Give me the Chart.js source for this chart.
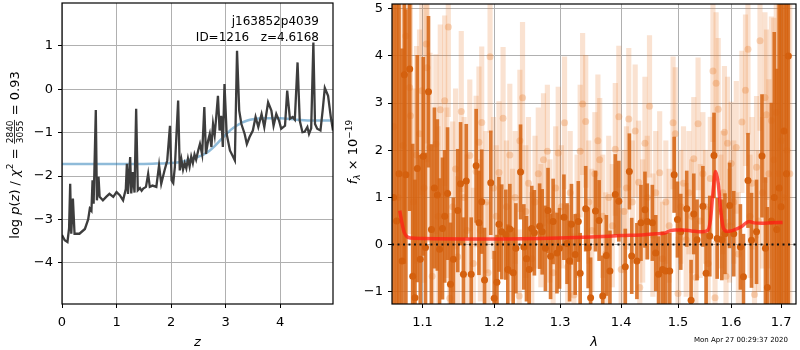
<!DOCTYPE html>
<html><head><meta charset="utf-8">
<script src="https://cdn.jsdelivr.net/npm/chart.js@4.4.0/dist/chart.umd.min.js"></script>
<style>
html,body{margin:0;padding:0;background:#fff;}
#wrap{position:relative;width:800px;height:350px;overflow:hidden;background:#fff;}
#c1{position:absolute;left:0;top:0;}
#c2{position:absolute;left:336px;top:0;}
</style></head><body>
<div id="wrap">
<canvas id="c1" width="340" height="350"></canvas>
<canvas id="c2" width="464" height="350"></canvas>
</div>
<script>
// ---------------- DATA: left panel (redshift PDF) ----------------
const zGrid = [0.00,0.05,0.10,0.13,0.15,0.17,0.20,0.23,0.32,0.42,0.48,0.51,0.54,0.56,0.58,0.62,0.64,0.67,0.69,0.75,
 0.81,0.87,0.94,1.00,1.06,1.12,1.17,1.19,1.21,1.25,1.27,1.30,1.33,1.36,1.39,1.43,1.46,1.49,1.54,1.58,
 1.61,1.66,1.73,1.78,1.82,1.88,1.93,1.98,2.01,2.04,2.07,2.13,2.16,2.19,2.22,2.25,2.28,2.31,2.34,2.37,
 2.40,2.43,2.46,2.50,2.53,2.57,
 2.61,2.64,2.68,2.71,2.74,2.77,2.80,2.83,2.86,2.89,2.92,2.95,2.98,3.02,3.08,3.14,3.17,3.21,3.25,3.29,
 3.35,3.39,3.44,3.50,3.55,3.60,3.66,3.71,3.78,3.84,3.88,3.93,3.98,4.02,4.09,4.13,4.18,4.23,4.27,4.32,
 4.36,4.41,4.45,4.50,4.53,4.57,4.61,4.64,4.68,4.74,4.78,4.82,4.88,4.93,4.97];
const logPz = [-3.36,-3.48,-3.52,-3.20,-2.18,-3.33,-2.52,-3.33,-3.33,-3.22,-3.00,-2.75,-2.80,-2.10,-2.64,-0.48,-2.56,-2.02,-2.48,-2.56,
 -2.48,-2.41,-2.48,-2.37,-2.44,-2.56,-2.30,-1.72,-2.41,-1.56,-2.40,-1.91,-2.38,-0.45,-2.33,-2.28,-2.34,-2.29,-2.25,-1.95,
 -2.25,-2.22,-2.25,-1.75,-2.18,-1.87,-1.64,-0.84,-2.10,-2.16,-1.79,-0.26,-1.87,-1.62,-1.85,-1.70,-1.82,-1.60,-1.78,-1.55,
 -1.70,-1.50,-1.62,-1.40,-1.26,-1.50,
 -0.41,-1.49,-1.18,-1.03,-1.33,-0.80,-1.05,-0.61,-0.15,-0.95,-0.61,-1.33,0.12,-1.03,-1.41,-1.56,-1.64,0.89,-0.49,-0.80,
 -1.03,-1.26,-1.10,-0.95,-0.64,-0.87,-0.57,-0.87,-0.30,-0.49,-0.84,-0.57,-0.72,-0.91,-0.84,-0.03,-0.68,-0.64,-0.70,0.62,
 -0.72,-0.99,-0.98,-0.87,-1.03,-0.90,1.08,-0.80,-0.91,-0.95,-0.49,0.03,-0.15,-0.64,-0.95];
const zPrior = [0.0,0.5,1.0,1.5,1.8,2.0,2.2,2.4,2.6,2.7,2.8,2.9,3.0,3.1,3.2,3.3,3.4,3.5,3.7,4.0,4.3,4.6,4.97];
const logPrior = [-1.72,-1.72,-1.72,-1.72,-1.71,-1.70,-1.67,-1.60,-1.50,-1.42,-1.31,-1.18,-1.05,-0.93,-0.84,-0.77,-0.72,-0.69,-0.67,-0.67,-0.70,-0.72,-0.72];
const zTicks = [0,1,2,3,4];
const logpTicks = [-4,-3,-2,-1,0,1];

// ---------------- DATA: right panel (spectrum) ----------------
const lamDark = [1.062,1.066,1.069,1.073,1.076,1.078,1.083,1.087,1.090,1.093,1.097,1.101,1.104,1.108,1.112,1.116,1.120,1.123,1.127,1.130,
 1.134,1.138,1.142,1.148,1.152,1.156,1.160,1.167,1.174,1.178,1.182,1.186,1.195,1.200,1.204,1.207,1.211,1.217,1.220,1.223,
 1.228,1.232,1.239,1.244,1.248,1.252,1.256,1.260,1.268,1.272,1.277,1.281,1.285,1.289,1.295,1.299,1.306,1.311,1.315,1.318,
 1.324,1.329,1.332,1.341,1.345,1.349,1.357,1.363,1.369,1.375,1.381,1.390,1.396,1.407,1.414,1.418,1.427,1.434,1.441,1.445,
 1.454,1.460,1.465,1.472,1.478,1.485,1.493,1.499,1.505,1.516,1.524,1.529,1.535,1.546,1.552,1.559,1.567,1.573,1.582,1.588,
 1.597,1.605,1.618,1.624,1.633,1.640,1.650,1.661,1.668,1.672,1.680,1.686,1.691,1.696,1.700,1.706,1.711,1.715];
const fluxDark = [1.0,0.5,1.5,-0.35,3.60,1.48,3.72,-0.67,-1.13,1.61,-0.31,1.87,-0.06,3.24,0.32,1.20,1.05,-0.10,0.34,0.60,
 1.08,-0.84,-0.31,0.72,1.29,-0.63,1.35,-0.63,1.67,0.46,0.91,-0.75,1.31,-1.14,-0.80,0.43,0.27,0.21,-0.53,0.33,
 -0.60,-0.08,1.54,-0.05,-0.30,-0.53,0.34,0.25,0.39,0.27,-0.08,0.72,-0.25,0.49,-0.18,-0.08,0.58,0.02,-0.35,0.43,
 -0.21,0.49,-0.61,0.76,-0.07,-1.13,0.71,0.51,-1.09,-0.23,-0.56,1.06,0.92,-0.47,1.55,-0.24,-0.35,0.46,0.74,0.49,
 0.46,-0.18,-0.63,-0.53,-0.56,-0.56,1.48,0.53,0.27,0.76,-1.18,0.65,0.10,0.81,-0.61,0.18,1.89,0.13,0.10,0.23,
 0.83,0.23,-0.05,-0.68,1.36,0.09,0.27,1.88,-0.08,-0.91,0.50,1.00,0.32,1.20,0.80,2.41,1.50,4.00];
const errDark = [6,6,5,4.5,4,3.5,3,2.8,2.5,2.4,2.2,2.1,2.0,1.6,1.8,1.7,1.6,1.5,1.5,1.4,
 1.4,1.3,1.3,1.3,1.3,1.2,1.2,1.2,1.2,1.1,1.1,1.1,1.1,1.0,1.0,1.0,1.0,0.95,0.95,0.95,
 0.95,0.95,1.0,0.9,0.9,0.9,0.9,0.9,0.9,0.9,0.9,0.9,0.9,0.9,0.85,0.85,0.9,0.85,0.85,0.85,
 0.85,0.85,0.85,0.9,0.85,0.85,0.85,0.85,0.85,0.85,0.85,0.85,0.85,0.8,0.8,0.8,0.8,0.8,0.8,0.8,
 0.8,0.8,0.8,0.8,0.8,0.8,0.8,0.8,0.8,0.8,0.85,0.85,0.85,0.85,0.85,0.85,0.9,0.85,0.85,0.85,
 0.9,0.9,0.9,0.9,1.0,1.0,1.1,1.3,1.5,1.7,2.5,3.5,3.4,5,6,6,6,6];

const lamLight = [1.062,1.068,1.074,1.078,1.083,1.084,1.088,1.092,1.096,1.099,1.102,1.105,1.106,1.110,1.113,1.118,1.121,1.124,1.130,1.133,
 1.135,1.137,1.141,1.145,1.148,1.153,1.157,1.161,1.165,1.170,1.174,1.178,1.180,1.182,1.188,1.191,1.194,1.199,1.203,1.207,
 1.213,1.218,1.223,1.227,1.231,1.237,1.238,1.242,1.247,1.251,1.256,1.261,1.266,1.270,1.274,1.280,1.284,1.289,1.293,1.297,
 1.302,1.307,1.312,1.316,1.322,1.327,1.332,1.336,1.341,1.346,1.351,1.356,1.361,1.364,1.369,1.374,1.379,1.385,1.390,1.396,
 1.400,1.405,1.409,1.413,1.419,1.424,1.430,1.432,1.437,1.441,1.445,1.449,1.455,1.460,1.467,1.472,1.478,1.484,1.491,1.495,
 1.500,1.505,1.510,1.515,1.520,1.525,1.529,1.533,1.537,1.541,1.546,1.551,1.556,1.560,1.565,1.569,1.571,1.575,1.580,1.584,
 1.587,1.590,1.593,1.597,1.600,1.605,1.610,1.614,1.621,1.628,1.633,1.637,1.641,1.646,1.650,1.654,1.657,1.662,1.667,1.670,
 1.675,1.680,1.685,1.690,1.695,1.700,1.706,1.712,1.718];
const fluxLight = [2.5,1.0,2.1,4.42,3.33,2.73,0.9,1.9,2.35,3.26,1.2,4.25,3.75,2.06,-0.67,2.13,0.6,2.86,3.05,1.1,
 4.61,-1.14,0.8,1.6,-0.26,2.82,1.0,0.3,1.89,-0.4,1.55,2.17,0.30,2.59,0.9,-0.6,3.98,1.2,0.6,1.53,
 2.68,0.8,1.90,0.2,1.0,-1.09,2.20,3.11,0.7,1.3,-0.3,0.9,1.50,0.4,1.80,1.98,0.5,-0.6,1.2,1.94,
 0.8,2.58,-0.47,1.1,-1.07,0.6,1.98,2.98,2.61,0.9,0.3,1.5,2.20,1.80,0.6,-0.2,1.0,0.4,2.02,2.71,
 -0.53,0.7,1.2,2.66,0.9,2.41,1.32,-0.91,0.5,2.15,1.0,2.93,0.2,1.1,1.52,-0.3,0.9,0.4,2.58,2.35,
 -1.04,0.8,1.3,0.1,1.1,0.6,1.82,-0.7,2.56,0.5,1.50,0.8,-0.4,1.4,3.68,-1.13,3.42,2.87,0.7,1.1,
 2.38,-0.67,2.15,0.4,1.72,0.9,2.06,-0.2,2.60,3.27,4.14,0.6,1.3,-1.06,1.64,0.5,4.32,1.1,3.12,2.75,
 1.5,2.63,1.8,2.8,1.5,2.2,1.0,2.0,1.5];
const errLight = [5,5,4,3,2.6,2.5,2.4,2.3,2.2,2.2,2.0,2.1,2.0,2.0,1.9,1.9,1.9,1.8,1.8,1.8,
 1.9,1.8,1.8,1.7,1.7,1.7,1.7,1.6,1.6,1.6,1.6,1.6,1.5,1.6,1.5,1.5,1.6,1.5,1.5,1.5,
 1.5,1.4,1.5,1.4,1.4,1.4,1.5,1.6,1.4,1.4,1.4,1.4,1.4,1.3,1.4,1.4,1.3,1.3,1.3,1.4,
 1.3,1.4,1.3,1.3,1.3,1.3,1.4,1.5,1.4,1.3,1.3,1.3,1.4,1.3,1.3,1.3,1.3,1.3,1.4,1.5,
 1.3,1.3,1.3,1.5,1.3,1.4,1.3,1.3,1.3,1.4,1.3,1.5,1.3,1.3,1.3,1.2,1.3,1.2,1.4,1.4,
 1.2,1.2,1.2,1.2,1.3,1.2,1.3,1.2,1.4,1.2,1.3,1.2,1.2,1.3,1.5,1.2,1.5,1.5,1.2,1.3,
 1.4,1.2,1.4,1.2,1.3,1.3,1.4,1.3,1.5,1.6,1.8,1.3,1.4,1.4,1.5,1.5,1.9,1.6,1.8,1.8,
 2.0,2.2,3,4,5,6,6,6,6];

const lamModel = [1.070,1.073,1.076,1.080,1.085,1.100,1.200,1.300,1.350,1.400,1.440,1.460,1.475,1.485,1.495,1.510,1.525,1.545,1.555,1.560,
 1.565,1.570,1.575,1.580,1.585,1.592,1.600,1.610,1.620,1.628,1.635,1.645,1.660,1.680,1.703];
const fluxModel = [0.72,0.45,0.25,0.16,0.14,0.13,0.12,0.14,0.16,0.19,0.21,0.23,0.24,0.29,0.31,0.31,0.29,0.27,0.30,0.50,
 1.10,1.55,1.30,0.70,0.35,0.28,0.29,0.33,0.38,0.45,0.49,0.46,0.45,0.46,0.47];
const lamTicks = [1.1,1.2,1.3,1.4,1.5,1.6,1.7];
const fluxTicks = [-1,0,1,2,3,4,5];

// ---------------- helpers ----------------
Chart.defaults.font.family = '"DejaVu Sans", sans-serif';
Chart.defaults.font.size = 13;
Chart.defaults.color = '#000';
const F = '13px "DejaVu Sans"', FI = 'italic 13px "DejaVu Sans"', FS = '9px "DejaVu Sans"', FSI = 'italic 9px "DejaVu Sans"';
const minus = v => String(v).replace('-', '\u2212');
const GRID = {color:'#b0b0b0', lineWidth:1, tickColor:'#000', tickLength:4, drawTicks:true};
const fitY = w => s => { s.width = w; s.paddingTop = 0; s.paddingBottom = 0; };
const fitX = h => s => { s.height = h; s.paddingLeft = 0; s.paddingRight = 0; };

function drawPieces(ctx, pieces, cx){
  let total = 0;
  pieces.forEach(p => {
    ctx.font = p.f;
    if (p.frac) { p.w = Math.max(ctx.measureText(p.frac[0]).width, ctx.measureText(p.frac[1]).width) + 2; }
    else p.w = ctx.measureText(p.t).width;
    total += p.w;
  });
  let x = cx - total/2;
  ctx.textAlign = 'left'; ctx.textBaseline = 'alphabetic';
  pieces.forEach(p => {
    ctx.font = p.f;
    if (p.frac) {
      ctx.textAlign = 'center';
      ctx.fillText(p.frac[0], x + p.w/2, -6);
      ctx.fillText(p.frac[1], x + p.w/2, 3.5);
      ctx.fillRect(x + 0.5, -4.9, p.w - 1, 0.8);
      ctx.textAlign = 'left';
    } else ctx.fillText(p.t, x, p.dy || 0);
    x += p.w;
  });
}

const frame = {
  id:'frame',
  afterDraw(chart){
    const {ctx, chartArea:a} = chart;
    ctx.save(); ctx.strokeStyle = '#000'; ctx.lineWidth = 1.2;
    ctx.strokeRect(a.left, a.top, a.right - a.left, a.bottom - a.top);
    ctx.restore();
  }
};

const leftText = {
  id:'leftText',
  afterDraw(chart){
    const {ctx, chartArea:a} = chart;
    ctx.save(); ctx.fillStyle = '#000';
    ctx.font = '12px "DejaVu Sans"'; ctx.textAlign = 'right'; ctx.textBaseline = 'alphabetic';
    ctx.fillText('j163852p4039', 319, 25);
    ctx.fillText('ID=1216   z=4.6168', 319, 41);
    ctx.font = FI; ctx.textAlign = 'center';
    ctx.fillText('z', (a.left + a.right)/2, 346);
    ctx.translate(19, 155); ctx.rotate(-Math.PI/2);
    drawPieces(ctx, [
      {t:'log ', f:F}, {t:'p', f:FI}, {t:'(', f:F}, {t:'z', f:FI}, {t:') / ', f:F},
      {t:'\u03c7', f:FI}, {t:'2', f:FS, dy:-6}, {t:' = ', f:F},
      {frac:['2840','3055'], f:FS}, {t:' = 0.93', f:F}
    ], 0);
    ctx.restore();
  }
};

const rightText = {
  id:'rightText',
  afterDraw(chart){
    const {ctx, chartArea:a} = chart;
    ctx.save(); ctx.fillStyle = '#000';
    ctx.font = FI; ctx.textAlign = 'center'; ctx.textBaseline = 'alphabetic';
    ctx.fillText('\u03bb', (a.left + a.right)/2, 346);
    ctx.font = '7px "DejaVu Sans"';
    ctx.fillText('Mon Apr 27 00:29:37 2020', 405, 342);
    ctx.translate(21, 152); ctx.rotate(-Math.PI/2);
    drawPieces(ctx, [
      {t:'f', f:FI}, {t:'\u03bb', f:FSI, dy:3}, {t:' \u00d7 10', f:F}, {t:'\u221219', f:FS, dy:-5}
    ], 0);
    ctx.restore();
  }
};

// ---------------- left chart ----------------
new Chart(document.getElementById('c1'), {
  type:'scatter',
  data:{datasets:[
    {type:'line', data:zGrid.map((z,i)=>({x:z, y:logPz[i]})), borderColor:'#3d3d3d', borderWidth:2.3,
     pointRadius:0, tension:0, clip:0, order:1},
    {type:'line', data:zPrior.map((z,i)=>({x:z, y:logPrior[i]})), borderColor:'rgba(31,119,180,0.5)', borderWidth:2.5,
     pointRadius:0, cubicInterpolationMode:'monotone', clip:0, order:2}
  ]},
  options:{
    responsive:false, animation:false, events:[],
    layout:{padding:{top:3, right:7, left:0, bottom:0}},
    plugins:{legend:{display:false}, tooltip:{enabled:false}},
    scales:{
      x:{type:'linear', min:0, max:4.97, grid:GRID, border:{display:false},
         afterBuildTicks:s=>{s.ticks = zTicks.map(v=>({value:v}));},
         afterFit:fitX(46),
         ticks:{padding:7, maxRotation:0, callback:v=>minus(v)}},
      y:{type:'linear', min:-4.95, max:1.99, grid:GRID, border:{display:false},
         afterBuildTicks:s=>{s.ticks = logpTicks.map(v=>({value:v}));},
         afterFit:fitY(62),
         ticks:{padding:5, callback:v=>minus(v)}}
    }
  },
  plugins:[frame, leftText]
});

// ---------------- right chart ----------------
new Chart(document.getElementById('c2'), {
  type:'scatter',
  data:{datasets:[
    {type:'line', data:[{x:1.06,y:0},{x:1.731,y:0}], borderColor:'#111', borderWidth:2, borderDash:[2,3.5],
     pointRadius:0, clip:0, order:0},
    {type:'line', data:lamModel.map((l,i)=>({x:l, y:fluxModel[i]})), borderColor:'rgba(255,30,20,0.75)', borderWidth:3.5,
     pointRadius:0, cubicInterpolationMode:'monotone', clip:0, order:1},
    {type:'scatter', data:lamDark.map((l,i)=>({x:l, y:fluxDark[i]})), backgroundColor:'rgb(212,96,14)', borderWidth:0,
     pointRadius:3.5, clip:0, order:2},
    {type:'bar', data:lamDark.map((l,i)=>({x:l, y:[fluxDark[i]-errDark[i], fluxDark[i]+errDark[i]]})),
     backgroundColor:'rgba(214,100,18,0.85)', borderWidth:0, barThickness:3, grouped:false, clip:0, order:3},
    {type:'scatter', data:lamLight.map((l,i)=>({x:l, y:fluxLight[i]})), backgroundColor:'rgba(232,125,45,0.3)', borderWidth:0,
     pointRadius:3.5, clip:0, order:4},
    {type:'bar', data:lamLight.map((l,i)=>({x:l, y:[fluxLight[i]-errLight[i], fluxLight[i]+errLight[i]]})),
     backgroundColor:'rgba(232,125,45,0.22)', borderWidth:0, barThickness:4.5, grouped:false, clip:0, order:5}
  ]},
  options:{
    responsive:false, animation:false, events:[],
    layout:{padding:{top:3, right:1, left:0, bottom:0}},
    plugins:{legend:{display:false}, tooltip:{enabled:false}},
    scales:{
      x:{type:'logarithmic', min:1.06, max:1.731, offset:false, grid:{...GRID, offset:false}, border:{display:false},
         afterBuildTicks:s=>{s.ticks = lamTicks.map(v=>({value:v}));},
         afterFit:fitX(46),
         ticks:{padding:7, maxRotation:0, autoSkip:false, callback:v=>Number(v).toFixed(1)}},
      y:{type:'linear', min:-1.26, max:5.1, beginAtZero:false, grid:GRID, border:{display:false},
         afterBuildTicks:s=>{s.ticks = fluxTicks.map(v=>({value:v}));},
         afterFit:fitY(56),
         ticks:{padding:5, callback:v=>minus(v)}}
    }
  },
  plugins:[frame, rightText]
});
</script>
</body></html>
